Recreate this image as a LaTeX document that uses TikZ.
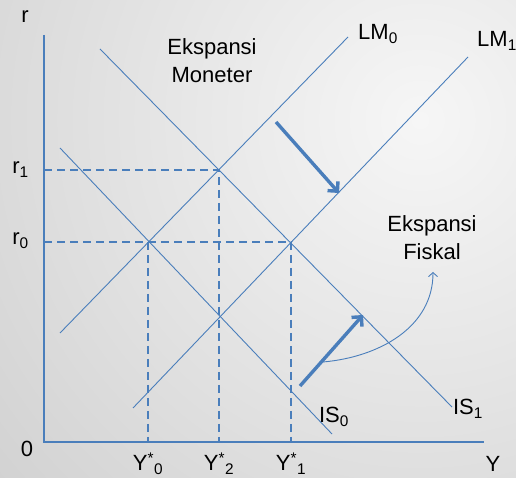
\documentclass[tikz,border=0pt]{standalone}
\usepackage{fontspec}
\setmainfont{Liberation Sans}
\usetikzlibrary{arrows.meta}
\definecolor{curveblue}{RGB}{74,126,187}

\begin{document}
\begin{tikzpicture}[x=1pt,y=1pt,
    curve/.style={curveblue,line width=0.9pt},
    axis/.style={curveblue,line width=1.4pt},
    guide/.style={curveblue,line width=1.1pt,dash pattern=on 8pt off 5pt},
    shiftarrow/.style={curveblue,line width=3.4pt,-{Straight Barb[length=7pt,width=14pt]}},
    bendarrow/.style={curveblue,line width=0.9pt,-{Straight Barb[length=4pt,width=9pt]}},
    lbl/.style={font=\fontsize{22}{28}\selectfont,inner sep=0pt}]
    % background
    \begin{scope}
        \clip (0,0) rectangle (516,478);
        \shade[inner color=gray!7,outer color=gray!62] (-660,-722) rectangle (1500,1438);
    \end{scope}
    \useasboundingbox (0,0) rectangle (516,478);
    % axes
    \coordinate (O) at (44,36);
    \coordinate (ytop) at (44,443);
    \coordinate (xend) at (484,36);
    \draw[axis] (ytop) -- (O) -- (xend);
    \node[lbl,anchor=base] (rlab) at (25,455) {r};
    \node[lbl,anchor=base] (olab) at (27,21) {0};
    \node[lbl,anchor=base] (ylab) at (493,6) {Y};
    % IS and LM curves
    \draw[curve] (60,330) -- (332,44);
    \draw[curve] (100,429) -- (452,71);
    \draw[curve] (60,145) -- (348,441);
    \draw[curve] (133,70) -- (468,421);
    \node[lbl,anchor=base] (is0) at (334,55) {IS\textsubscript{0}};
    \node[lbl,anchor=base] (is1) at (468,63) {IS\textsubscript{1}};
    \node[lbl,anchor=base] (lm0) at (378,438) {LM\textsubscript{0}};
    \node[lbl,anchor=base west] (lm1) at (477,431) {LM\textsubscript{1}};
    % equilibria and guides
    \coordinate (E0) at (148,236);
    \coordinate (E1) at (291,236);
    \coordinate (E2) at (219,308);
    \coordinate (r0) at (44,236);
    \coordinate (r1) at (44,308);
    \coordinate (y0) at (148,36);
    \coordinate (y2) at (219,36);
    \coordinate (y1) at (291,36);
    \draw[guide] (r1) -- (E2) -- (y2);
    \draw[guide] (r0) -- (E1) -- (y1);
    \draw[guide] (E0) -- (y0);
    \node[lbl,anchor=base east] (lr1) at ([xshift=-15pt,yshift=-4pt]r1) {r\textsubscript{1}};
    \node[lbl,anchor=base east] (lr0) at ([xshift=-15pt,yshift=-3pt]r0) {r\textsubscript{0}};
    \node[lbl,anchor=base] (ly0) at ([yshift=-29pt]y0) {Y\textsuperscript{*}\textsubscript{0}};
    \node[lbl,anchor=base] (ly2) at ([yshift=-29pt]y2) {Y\textsuperscript{*}\textsubscript{2}};
    \node[lbl,anchor=base] (ly1) at ([yshift=-29pt]y1) {Y\textsuperscript{*}\textsubscript{1}};
    % shifts
    \node[lbl,align=center] (mon) at (212,417) {Ekspansi\\Moneter};
    \node[lbl,align=center] (fis) at (432,240) {Ekspansi\\Fiskal};
    \coordinate (m0) at (276,356);
    \coordinate (m1) at (339,285);
    \coordinate (f0) at (300,92);
    \coordinate (f1) at (363,163);
    \draw[shiftarrow] (m0) -- (m1);
    \draw[shiftarrow] (f0) -- (f1);
    \coordinate (c0) at (323,116);
    \coordinate (c1) at (433,206);
    \draw[bendarrow] (c0) to[out=5,in=-90] (c1);
\end{tikzpicture}
\end{document}
